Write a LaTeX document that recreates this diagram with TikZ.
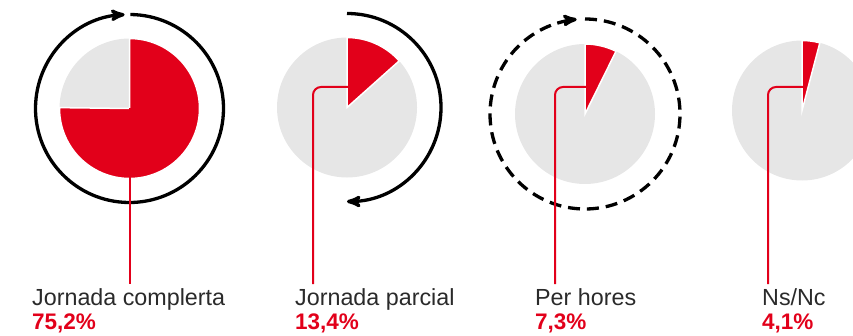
\documentclass[tikz,border=0pt]{standalone}
\usepackage{fontspec}
\setmainfont{Liberation Sans}
\usetikzlibrary{arrows}
\definecolor{piered}{HTML}{E2001A}
\definecolor{piegray}{HTML}{E6E6E6}
\definecolor{textgray}{HTML}{2A2A2A}

\begin{document}
\begin{tikzpicture}
[x=1pt,y=1pt,>={stealth'[scale=1.6]},
ring/.style={line width=3.3pt,black},
wedge/.style={fill=piered,draw=white,line width=1.5pt},
lead/.style={piered,line width=2pt,rounded corners=8pt},
labeltext/.style={anchor=base west,inner sep=0pt,text=textgray,font=\fontsize{23.3}{26}\selectfont},
pct/.style={anchor=base west,inner sep=0pt,text=piered,font=\fontsize{22.5}{26}\selectfont\bfseries}]
\useasboundingbox (0,0) rectangle (853,335);
\clip (0,0) rectangle (853,335);

\coordinate (c1) at (129.5,226.5);
\coordinate (c2) at (347,227.5);
\coordinate (c3) at (585,221);
\coordinate (c4) at (802,224.5);

\fill[piegray] (c1) circle (70pt);
\draw[wedge] (c1) -- ([shift={(90:70pt)}]c1) arc (90:-180.72:70pt) -- cycle;
\fill[piegray] (c2) circle (70pt);
\draw[wedge] (c2) -- ([shift={(90:70pt)}]c2) arc (90:41.76:70pt) -- cycle;
\fill[piegray] (c3) circle (70pt);
\draw[wedge] (c3) -- ([shift={(90:70pt)}]c3) arc (90:63.72:70pt) -- cycle;
\fill[piegray] (c4) circle (70pt);
\draw[wedge] (c4) -- ([shift={(90:70pt)}]c4) arc (90:75.24:70pt) -- cycle;

\draw[ring,->] ([shift={(89.5:94pt)}]c1) arc (89.5:-267:94pt);
\draw[ring,->] ([shift={(90:94pt)}]c2) arc (90:-90:94pt);
\draw[ring,dash pattern=on 12pt off 6.97pt] ([shift={(90:95pt)}]c3) arc (90:-249:95pt);
\draw[ring,->] ([shift={(107:95pt)}]c3) arc (107:95:95pt);

\node[labeltext] (l1) at (32,30) {Jornada complerta};
\node[pct] (p1) at (32,5.5) {75,2\%};
\node[labeltext] (l2) at (295,30) {Jornada parcial};
\node[pct] (p2) at (295,5.5) {13,4\%};
\node[labeltext] (l3) at (535,30) {Per hores};
\node[pct] (p3) at (535,5.5) {7,3\%};
\node[labeltext] (l4) at (762,30) {Ns/Nc};
\node[pct] (p4) at (762,5.5) {4,1\%};

\coordinate (h2) at (348,248);
\coordinate (h3) at (586,248);
\coordinate (h4) at (803,248);
\coordinate (t1) at (129.5,51);
\coordinate (t2) at (313,51);
\coordinate (t3) at (555,51);
\coordinate (t4) at (768,51);

\draw[lead] (c1) -- (t1);
\draw[lead] (h2) -| (t2);
\draw[lead] (h3) -| (t3);
\draw[lead] (h4) -| (t4);
\end{tikzpicture}
\end{document}
